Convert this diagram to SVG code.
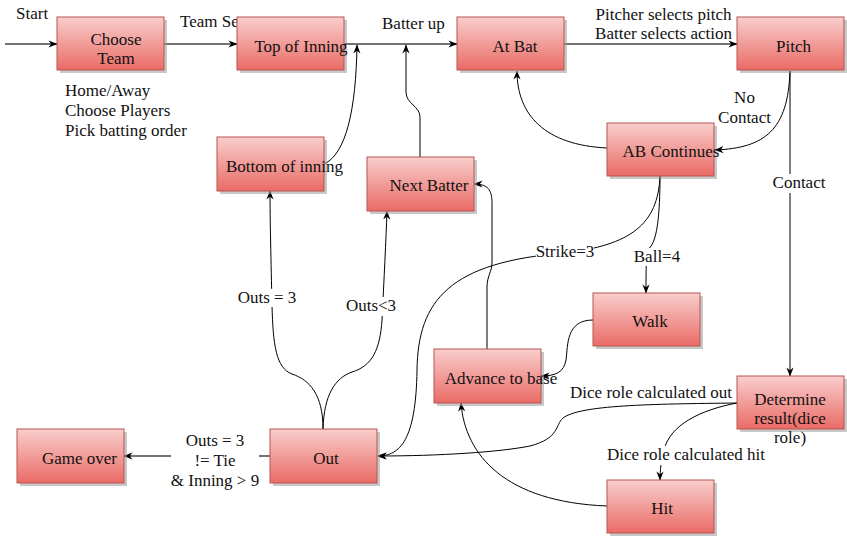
<svg xmlns="http://www.w3.org/2000/svg" width="847" height="538" viewBox="0 0 847 538">
<defs>
<linearGradient id="g" x1="0" y1="0" x2="0" y2="1"><stop offset="0" stop-color="#f8cecc"/><stop offset="1" stop-color="#ea6b66"/></linearGradient>
<marker id="a" viewBox="0 0 10 10" refX="9.5" refY="5" markerWidth="9" markerHeight="9" markerUnits="userSpaceOnUse" orient="auto"><path d="M0,1 L10,5 L0,9 L3,5 z" fill="#000"/></marker>
</defs>
<style>
.n rect.b{fill:url(#g);stroke:#b85450;stroke-width:1}
.n rect.s{fill:#9a9a9a;opacity:0.55}
text{font-family:"Liberation Serif","Times New Roman",serif;font-size:17px;fill:#111}
.t{text-anchor:middle}
.e path{fill:none;stroke:#000;stroke-width:1;marker-end:url(#a)}
.e path.h{stroke:#444;stroke-width:1.4}
.lb{fill:#fff}
</style>
<rect width="847" height="538" fill="#fff"/>
<g id="connectors" class="e">
<path class="h" d="M5 44 L57 44"/>
<path class="h" d="M164 44 L237 44"/>
<path class="h" d="M344 44 L457 44"/>
<path class="h" d="M564 44 L737 44"/>
<path d="M790 71 C788 130 765 148 715 150"/>
<path d="M790 71 L790 376"/>
<path d="M607 148 C545 145 517 115 517 71"/>
<path d="M660 176 C658 225 630 245 565 253 C450 262 418 300 417 370 C416 440 400 456 378 456"/>
<path d="M660 176 C660 215 657 238 651 246 C646 252 646 262 646 293"/>
<path d="M593 320 C566 320 568 345 566 360 C564 372 556 376 541 376"/>
<path d="M607 506 C505 502 465 455 461 403"/>
<path d="M487 349 L487 287 C487 276 492 272 492 262 L492 203 C492 190 488 184 474 184"/>
<path d="M420 157 L420 117 C420 106 406 104 406 92 L406 45"/>
<path d="M324 164 C346 154 356 110 357 45"/>
<path d="M323 429 C323 395 310 380 292 374 C276 368 273 345 272 305 C271 260 270 220 270 191"/>
<path d="M323 429 C324 395 335 378 352 372 C372 366 380 350 382 320 C384 280 386 240 387 211"/>
<path class="h" d="M270 456 L124 456"/>
<path d="M737 403 C650 404 580 405 563 418 C555 425 560 438 530 446 C500 452 440 456 378 456"/>
<path d="M737 403 C700 410 670 425 664 450 C661 462 660 470 660 480"/>
<g id="edge-labels">
<text x="180" y="27">Team Set</text>
<text x="382" y="29">Batter up</text>
<text class="t" x="663.5" y="20">Pitcher selects pitch</text>
<text class="t" x="663.5" y="39">Batter selects action</text>
<text class="t" x="744.5" y="103">No</text>
<text class="t" x="744.5" y="123">Contact</text>
<rect class="lb" x="771" y="174" width="56" height="19"/>
<text class="t" x="799" y="188">Contact</text>
<rect class="lb" x="536" y="243" width="58" height="18"/>
<text class="t" x="565" y="257">Strike=3</text>
<rect class="lb" x="633" y="248" width="48" height="18"/>
<text class="t" x="657" y="262">Ball=4</text>
<rect class="lb" x="237" y="289" width="60" height="18"/>
<text class="t" x="267" y="303">Outs = 3</text>
<rect class="lb" x="346" y="297" width="50" height="19"/>
<text class="t" x="371" y="311">Outs&lt;3</text>
<rect class="lb" x="171" y="430" width="88" height="60"/>
<text class="t" x="215" y="446">Outs = 3</text>
<text class="t" x="215" y="466">!= Tie</text>
<text class="t" x="215" y="486">&amp; Inning &gt; 9</text>
<text class="t" x="651" y="398">Dice role calculated out</text>
<rect class="lb" x="606" y="446" width="160" height="19"/>
<text class="t" x="686" y="460">Dice role calculated hit</text>
</g>
</g>
<g id="n-choose" class="n"><rect class="s" x="60" y="20" width="107" height="53"/><rect class="b" x="57" y="17" width="107" height="53"/><text class="t" x="116" y="45">Choose</text><text class="t" x="116" y="64">Team</text></g>
<g id="n-top" class="n"><rect class="s" x="240" y="20" width="107" height="53"/><rect class="b" x="237" y="17" width="107" height="53"/><text class="t" x="301" y="52">Top of Inning</text></g>
<g id="n-atbat" class="n"><rect class="s" x="460" y="20" width="107" height="53"/><rect class="b" x="457" y="17" width="107" height="53"/><text class="t" x="515" y="52">At Bat</text></g>
<g id="n-pitch" class="n"><rect class="s" x="740" y="20" width="107" height="53"/><rect class="b" x="737" y="17" width="107" height="53"/><text class="t" x="793.5" y="52">Pitch</text></g>
<g id="n-abcont" class="n"><rect class="s" x="610" y="126" width="107" height="53"/><rect class="b" x="607" y="123" width="107" height="53"/><text class="t" x="671" y="157">AB Continues</text></g>
<g id="n-bottom" class="n"><rect class="s" x="220" y="140" width="107" height="54"/><rect class="b" x="217" y="137" width="107" height="54"/><text class="t" x="284.5" y="172">Bottom of inning</text></g>
<g id="n-next" class="n"><rect class="s" x="370" y="160" width="107" height="54"/><rect class="b" x="367" y="157" width="107" height="54"/><text class="t" x="429" y="191">Next Batter</text></g>
<g id="n-walk" class="n"><rect class="s" x="596" y="296" width="107" height="53"/><rect class="b" x="593" y="293" width="107" height="53"/><text class="t" x="650" y="327">Walk</text></g>
<g id="n-advance" class="n"><rect class="s" x="437" y="352" width="107" height="54"/><rect class="b" x="434" y="349" width="107" height="54"/><text class="t" x="501" y="384">Advance to base</text></g>
<g id="n-determine" class="n"><rect class="s" x="740" y="379" width="107" height="53"/><rect class="b" x="737" y="376" width="107" height="53"/><text class="t" x="790" y="405">Determine</text><text class="t" x="790" y="424">result(dice</text><text class="t" x="790" y="443">role)</text></g>
<g id="n-hit" class="n"><rect class="s" x="610" y="483" width="107" height="53"/><rect class="b" x="607" y="480" width="107" height="53"/><text class="t" x="662" y="514">Hit</text></g>
<g id="n-gameover" class="n"><rect class="s" x="20" y="432" width="107" height="54"/><rect class="b" x="17" y="429" width="107" height="54"/><text class="t" x="79.5" y="464">Game over</text></g>
<g id="n-out" class="n"><rect class="s" x="273" y="432" width="107" height="54"/><rect class="b" x="270" y="429" width="107" height="54"/><text class="t" x="326" y="464">Out</text></g>
<g id="free-text">
<text x="16" y="19">Start</text>
<text x="65" y="96">Home/Away</text>
<text x="65" y="116">Choose Players</text>
<text x="65" y="136">Pick batting order</text>
</g>
</svg>
